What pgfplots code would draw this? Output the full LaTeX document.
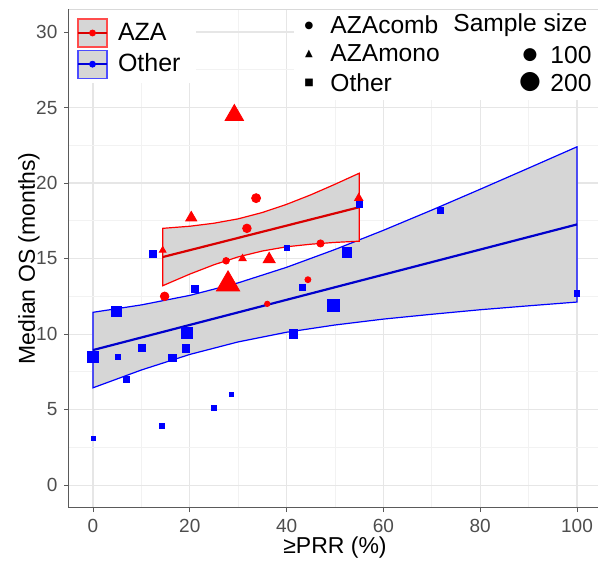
\documentclass[border=0pt]{standalone}
\usepackage{pgfplots}
\pgfplotsset{compat=1.18}
\usepackage{pgfplotstable}
\usepackage{fontspec}
\setmainfont{Liberation Sans}
\newfontfamily\sym{DejaVu Sans}
\definecolor{gridmaj}{HTML}{E6E6E6}
\definecolor{gridmin}{HTML}{F2F2F2}
\definecolor{ticktext}{HTML}{4D4D4D}
\definecolor{axisgray}{HTML}{5A5A5A}
\definecolor{bordergray}{HTML}{D9D9D9}
\definecolor{ribbon}{HTML}{D6D6D6}
\definecolor{aza}{HTML}{FF0000}
\definecolor{oth}{HTML}{0000FF}

% Other (squares): x, y, half-width (pt)
\pgfplotstableread{
x y s
0 8.5 2.9
5.1 8.5 1.35
10.1 9.1 1.7
6.8 7.0 1.5
16.4 8.4 1.8
19.2 9.05 1.8
19.4 10.1 2.75
4.8 11.5 2.5
21.0 13.0 1.8
12.3 15.3 1.8
40.0 15.7 1.35
43.3 13.1 1.5
41.4 10.0 2.1
0 3.1 1.0
14.3 3.9 1.2
25.0 5.1 1.25
28.6 6.0 1.1
49.7 11.9 3.0
100 12.7 1.35
71.8 18.2 1.5
52.5 15.4 2.35
55.0 18.6 1.5
}\othertab

% AZAcomb (circles)
\pgfplotstableread{
x y s
33.7 19.0 2.25
31.8 17.0 2.15
27.5 14.85 1.65
47.0 16.0 1.8
14.8 12.5 2.15
36.0 12.0 1.35
44.4 13.6 1.5
}\combtab

% AZAmono (triangles)
\pgfplotstableread{
x y s
29.2 24.5 5.3
27.9 13.3 6.7
20.3 17.7 3.2
14.4 15.55 1.9
30.9 15.0 2.1
36.4 14.95 3.5
54.9 19.0 2.4
}\monotab

\begin{document}
\begin{tikzpicture}
\begin{axis}[
  scale only axis, width=266.2pt, height=249.15pt,
  xmin=-5, xmax=105, ymin=-1.5, ymax=31.5,
  xtick={0,20,...,100}, ytick={0,5,...,30},
  minor xtick={10,30,...,90}, minor ytick={2.5,7.5,...,27.5},
  grid=both,
  major grid style={draw=gridmaj, line width=0.55pt},
  minor grid style={draw=gridmin, line width=0.35pt},
  axis line style={draw=none},
  tick align=outside, tick pos=left,
  major tick length=2.2pt, minor tick length=0pt,
  tick style={draw=axisgray, line width=0.5pt},
  ticklabel style={font=\fontsize{9.5}{10}\selectfont, text=ticktext},
  /pgf/number format/assume math mode=true,
  clip mode=individual,
  legend style={at={(axis description cs:0,1)}, anchor=north west,
    xshift=4.1pt, yshift=-4.5pt, draw=none, fill=none,
    inner sep=0pt, outer sep=0pt, row sep=1pt,
    font=\fontsize{12.5}{14}\selectfont,
    nodes={inner sep=2pt},
    /tikz/every odd column/.append style={column sep=3pt}},
  legend cell align=left,
]
\addlegendimage{legend image code/.code={
  \filldraw[fill=ribbon, draw=aza!70, line width=0.6pt] (0pt,-7pt) rectangle (14.5pt,7pt);
  \draw[aza!85!black, line width=1pt] (0pt,0pt) -- (14.5pt,0pt);
  \fill[aza] (7.25pt,0pt) circle (1.5pt);
}}
\addlegendentry{AZA}
\addlegendimage{legend image code/.code={
  \filldraw[fill=ribbon, draw=oth!70, line width=0.6pt] (0pt,-7pt) rectangle (14.5pt,7pt);
  \draw[oth!85!black, line width=1pt] (0pt,0pt) -- (14.5pt,0pt);
  \fill[oth] (7.25pt,0pt) circle (1.5pt);
}}
\addlegendentry{Other}

% white backgrounds behind the legends
\fill[white] (axis description cs:0,1) rectangle (axis description cs:0.239,0.852);
\fill[white] (axis description cs:0.423,1) rectangle (axis description cs:1,0.818);

% confidence ribbons
\addplot[forget plot, fill=ribbon, draw=oth, line width=0.6pt] coordinates {
 (0,11.44) (10,11.93) (20,12.56) (30,13.39) (40,14.42) (50,15.60) (60,16.87) (70,18.21) (80,19.59) (90,20.99) (100,22.40)
 (100,12.12) (90,11.87) (80,11.61) (70,11.31) (60,10.99) (50,10.60) (40,10.12) (30,9.48) (20,8.65) (10,7.62) (0,6.44)
} -- cycle;
\addplot[forget plot, fill=ribbon, draw=aza, line width=0.6pt] coordinates {
 (14.4,17.0) (20,17.14) (25,17.34) (30,17.63) (35,18.05) (40,18.59) (45,19.22) (50,19.92) (55,20.65)
 (55,16.15) (50,16.07) (45,15.95) (40,15.78) (35,15.50) (30,15.11) (25,14.59) (20,13.97) (14.4,13.2)
} -- cycle;
% regression lines
\addplot[forget plot, oth!80!black, line width=1.1pt] coordinates {(0,8.94) (100,17.26)};
\addplot[forget plot, aza!85!black, line width=1.1pt] coordinates {(14.4,15.1) (55,18.4)};

% points
\addplot[forget plot, scatter, only marks, mark=square*,
  scatter/use mapped color={draw=oth, fill=oth},
  visualization depends on={\thisrow{s} \as \ms},
  scatter/@pre marker code/.append style={/tikz/mark size=\ms pt}]
  table[x=x, y=y] {\othertab};
\addplot[forget plot, scatter, only marks, mark=*,
  scatter/use mapped color={draw=aza, fill=aza},
  visualization depends on={\thisrow{s} \as \ms},
  scatter/@pre marker code/.append style={/tikz/mark size=\ms pt}]
  table[x=x, y=y] {\combtab};
\addplot[forget plot, scatter, only marks, mark=triangle*,
  scatter/use mapped color={draw=aza, fill=aza},
  visualization depends on={\thisrow{s} \as \ms},
  scatter/@pre marker code/.append style={/tikz/mark size=\ms pt}]
  table[x=x, y=y] {\monotab};
\end{axis}

% panel border and axis lines
\draw[bordergray, line width=0.5pt] (current axis.north west) -- (current axis.north east) -- (current axis.south east);
\draw[axisgray, line width=0.7pt] (current axis.north west) -- (current axis.south west) -- (current axis.south east);

% axis titles
\node[anchor=base, inner sep=0pt, font=\fontsize{11.5}{13}\selectfont] at ([yshift=-22.8pt]current axis.south) {≥PRR (\%)};
\node[anchor=base, rotate=90, inner sep=0pt, font=\fontsize{11.5}{13}\selectfont] at ([xshift=-16.9pt]current axis.west) {Median OS (months)};

% shape legend
\begin{scope}[shift={(current axis.north west)}]
\node[inner sep=0pt, font=\sym\fontsize{5}{6}\selectfont] at (120.1pt,-8.3pt) {●};
\node[inner sep=0pt, font=\sym\fontsize{5}{6}\selectfont] at (120.1pt,-22.3pt) {▲};
\node[inner sep=0pt, font=\sym\fontsize{5}{6}\selectfont] at (120.1pt,-36.8pt) {■};
\node[anchor=base west, inner sep=0pt, font=\fontsize{12.3}{14}\selectfont] at (130.6pt,-12pt) {AZAcomb};
\node[anchor=base west, inner sep=0pt, font=\fontsize{12.3}{14}\selectfont] at (130.6pt,-26.2pt) {AZAmono};
\node[anchor=base west, inner sep=0pt, font=\fontsize{12.3}{14}\selectfont] at (130.6pt,-41.2pt) {Other};
% size legend
\node[anchor=base west, inner sep=0pt, font=\fontsize{12.3}{14}\selectfont] at (192.1pt,-11.2pt) {Sample size};
\node[inner sep=0pt, font=\sym\fontsize{8.5}{9}\selectfont] at (230.6pt,-22.8pt) {●};
\node[inner sep=0pt, font=\sym\fontsize{12.5}{13}\selectfont] at (230.6pt,-36.3pt) {●};
\node[anchor=base west, inner sep=0pt, font=\fontsize{12.3}{14}\selectfont] at (240.6pt,-27pt) {100};
\node[anchor=base west, inner sep=0pt, font=\fontsize{12.3}{14}\selectfont] at (240.6pt,-41.2pt) {200};
\end{scope}

\pgfresetboundingbox
\path[use as bounding box] ([xshift=-34.4pt,yshift=-26.7pt]current axis.south west) rectangle ([xshift=-1.6pt,yshift=4.7pt]current axis.north east);
\end{tikzpicture}
\end{document}
